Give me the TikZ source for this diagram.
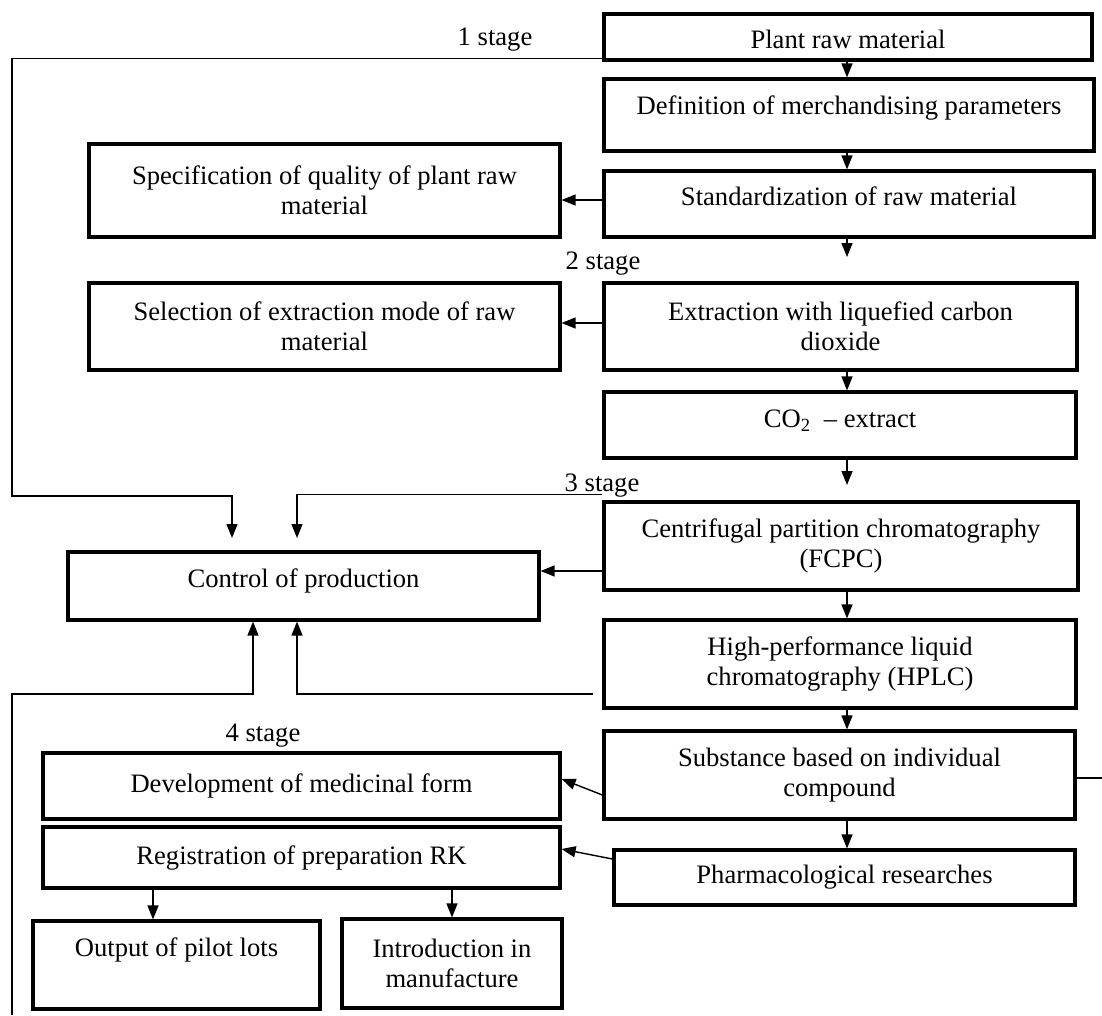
\documentclass[tikz,border=0pt]{standalone}
\usepackage{fontspec}
\setmainfont{Liberation Serif}
\usetikzlibrary{arrows.meta}
\begin{document}
\begin{tikzpicture}[x=1pt,y=-1pt,
  box/.style={draw, line width=3.2pt, inner sep=0pt, align=center,
    font=\fontsize{26.6}{30}\selectfont},
  conn/.style={line width=1.4pt},
  arr/.style={conn, -{Triangle[length=14pt,width=11pt]}},
  stagelbl/.style={anchor=base, inner sep=0pt, font=\fontsize{26.6}{30}\selectfont}]
\useasboundingbox[fill=white] (0,0) rectangle (1102,1015);

% boxes
\node[box, minimum width=488pt, minimum height=46pt, text height=28pt, text depth=6pt] (plant) at (848,37) {Plant raw material};
\node[box, minimum width=490pt, minimum height=72pt, text height=18pt, text depth=20pt] (defn) at (849,115) {Definition of merchandising parameters};
\node[box, minimum width=471pt, minimum height=93pt] (spec) at (324.5,190.5) {Specification of quality of plant raw\\material};
\node[box, minimum width=490pt, minimum height=66pt, text height=18pt, text depth=15pt] (stand) at (849,204) {Standardization of raw material};
\node[box, minimum width=471pt, minimum height=87pt] (select) at (324.5,326.5) {Selection of extraction mode of raw\\material};
\node[box, minimum width=473pt, minimum height=87pt] (extract) at (840.5,326.5) {Extraction with liquefied carbon\\dioxide};
\node[box, minimum width=472pt, minimum height=66pt, text height=18pt, text depth=13pt] (co2) at (840,425) {CO\textsubscript{2}~ – extract};
\node[box, minimum width=474pt, minimum height=88pt] (cfpc) at (841,546) {Centrifugal partition chromatography\\(FCPC)};
\node[box, minimum width=471pt, minimum height=68pt, text height=18pt, text depth=15pt] (control) at (303.5,586) {Control of production};
\node[box, minimum width=472pt, minimum height=88pt] (hplc) at (840,664) {High-performance liquid\\chromatography (HPLC)};
\node[box, minimum width=471pt, minimum height=88pt] (subst) at (839.5,775) {Substance based on individual\\compound};
\node[box, minimum width=517pt, minimum height=66pt] (devel) at (301.5,786) {Development of medicinal form};
\node[box, minimum width=517pt, minimum height=61pt] (regist) at (301.5,857.5) {Registration of preparation RK};
\node[box, minimum width=461pt, minimum height=55pt] (pharm) at (844.5,877.5) {Pharmacological researches};
\node[box, minimum width=287pt, minimum height=88pt, text height=18pt, text depth=36pt] (output) at (176.5,965) {Output of pilot lots};
\node[box, minimum width=220pt, minimum height=89pt] (intro) at (452,963.5) {Introduction in\\manufacture};

% stage labels
\node[stagelbl] (s1) at (495,45) {1 stage};
\node[stagelbl] (s2) at (603,269) {2 stage};
\node[stagelbl] (s3) at (602,491) {3 stage};
\node[stagelbl] (s4) at (263,741) {4 stage};

% helper coordinates
\coordinate (ax) at (847,0);
\coordinate (e2) at (847,257);
\coordinate (e3) at (847,485);
\coordinate (y200) at (0,200);
\coordinate (y323) at (0,323);
\coordinate (y571) at (0,571);
\coordinate (y795) at (0,795);
\coordinate (y779) at (0,779);
\coordinate (y859) at (0,859);
\coordinate (y849) at (0,849);
\coordinate (y778) at (0,778);
\coordinate (c153) at (153,0);
\coordinate (c452) at (452,0);
\coordinate (c297) at (297,0);
\coordinate (c253) at (253,0);
\coordinate (lc1) at (12,496);
\coordinate (d1) at (232,538);
\coordinate (d2) at (297,538);
\coordinate (h1) at (593,694);
\coordinate (lc2) at (12,694);
\coordinate (bl) at (12,1015);
\coordinate (rs) at (1102,778);

% main column arrows
\draw[arr] (plant.south -| ax) -- (defn.north -| ax);
\draw[arr] (defn.south -| ax) -- (stand.north -| ax);
\draw[arr] (stand.south -| ax) -- (e2);
\draw[arr] (extract.south -| ax) -- (co2.north -| ax);
\draw[arr] (co2.south -| ax) -- (e3);
\draw[arr] (cfpc.south -| ax) -- (hplc.north -| ax);
\draw[arr] (hplc.south -| ax) -- (subst.north -| ax);
\draw[arr] (subst.south -| ax) -- (pharm.north -| ax);

% leftward arrows
\draw[arr] (stand.west |- y200) -- (spec.east |- y200);
\draw[arr] (extract.west |- y323) -- (select.east |- y323);
\draw[arr] (cfpc.west |- y571) -- (control.east |- y571);
\draw[arr] (subst.west |- y795) -- (devel.east |- y779);
\draw[arr] (pharm.west |- y859) -- (regist.east |- y849);

% registration outputs
\draw[arr] (regist.south -| c153) -- (output.north -| c153);
\draw[arr] (regist.south -| c452) -- (intro.north -| c452);

% feedback lines to control
\draw[arr] ([yshift=3pt]plant.south west) -| (lc1) -| (d1);
\draw[arr] ([yshift=6pt]cfpc.north west) -| (d2);
\draw[arr] (h1) -| (control.south -| c297);
\draw[arr] (bl) -- (lc2) -| (control.south -| c253);

% right stub
\draw[conn] (subst.east |- y778) -- (rs);
\end{tikzpicture}
\end{document}
